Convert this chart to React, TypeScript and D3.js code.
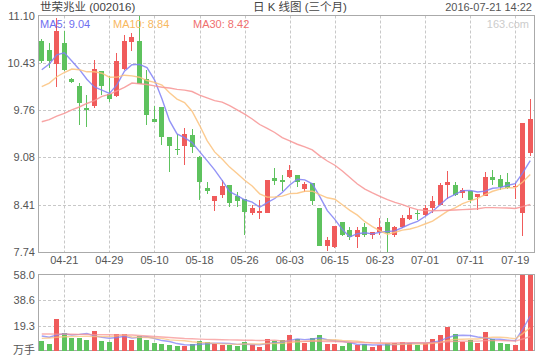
import React from 'react';
import * as d3 from 'd3';

// trading days shown (MM-DD, 2016)
const dates = [
  '04-18', '04-19', '04-20', '04-21', '04-22', '04-25', '04-26', '04-27', '04-28', '04-29',
  '05-03', '05-04', '05-05', '05-06', '05-09', '05-10', '05-11', '05-12', '05-13', '05-16',
  '05-17', '05-18', '05-19', '05-20', '05-23', '05-24', '05-25', '05-26', '05-27', '05-30',
  '05-31', '06-01', '06-02', '06-03', '06-06', '06-07', '06-08', '06-13', '06-14', '06-15',
  '06-16', '06-17', '06-20', '06-21', '06-22', '06-23', '06-24', '06-27', '06-28', '06-29',
  '06-30', '07-01', '07-04', '07-05', '07-06', '07-07', '07-08', '07-11', '07-12', '07-13',
  '07-14', '07-15', '07-18', '07-19', '07-20', '07-21',
];

const opens = [
  10.74, 10.61, 10.41, 10.71, 10.20, 10.10, 9.79, 9.81, 10.31, 9.99,
  9.96, 10.34, 10.72, 10.74, 10.20, 9.63, 9.80, 9.37, 9.21, 9.25,
  9.40, 9.09, 8.65, 8.46, 8.55, 8.69, 8.53, 8.49, 8.29, 8.29,
  8.30, 8.79, 8.76, 8.80, 8.84, 8.64, 8.72, 8.36, 7.82, 7.81,
  8.16, 8.05, 7.95, 8.10, 7.98, 8.03, 8.17, 7.98, 8.09, 8.21,
  8.30, 8.26, 8.36, 8.41, 8.69, 8.69, 8.58, 8.61, 8.52, 8.54,
  8.80, 8.78, 8.73, 8.67, 8.29, 9.15,
];
const highs = [
  10.76, 10.71, 11.06, 10.88, 10.21, 10.14, 9.97, 10.47, 10.31, 10.24,
  10.57, 10.83, 10.85, 11.10, 10.33, 9.82, 9.80, 9.37, 9.42, 9.50,
  9.49, 9.10, 8.73, 8.53, 8.76, 8.69, 8.59, 8.49, 8.41, 8.48,
  8.76, 8.93, 8.84, 8.98, 8.84, 8.74, 8.72, 8.36, 7.96, 8.11,
  8.16, 8.10, 8.09, 8.15, 8.03, 8.22, 8.22, 8.11, 8.27, 8.36,
  8.33, 8.41, 8.54, 8.72, 8.89, 8.74, 8.65, 8.61, 8.57, 8.87,
  8.90, 8.84, 8.86, 8.72, 9.57, 9.92,
];
const lows = [
  10.43, 10.36, 10.09, 10.31, 10.14, 9.54, 9.52, 9.79, 9.97, 9.87,
  9.94, 10.33, 10.59, 10.12, 9.55, 9.58, 9.26, 8.88, 9.12, 8.98,
  9.14, 8.48, 8.57, 8.32, 8.51, 8.38, 8.38, 7.98, 8.27, 8.21,
  8.29, 8.69, 8.60, 8.79, 8.67, 8.59, 8.41, 7.82, 7.76, 7.79,
  7.97, 7.91, 7.79, 7.96, 7.92, 7.98, 7.74, 7.96, 8.08, 8.20,
  8.19, 8.25, 8.29, 8.41, 8.50, 8.53, 8.51, 8.43, 8.34, 8.54,
  8.69, 8.62, 8.63, 8.50, 7.97, 9.10,
];
const closes = [
  10.45, 10.46, 10.88, 10.33, 10.15, 9.85, 9.76, 10.34, 10.10, 9.91,
  10.46, 10.74, 10.79, 10.13, 9.68, 9.59, 9.38, 9.25, 9.19, 9.42,
  9.23, 8.74, 8.61, 8.53, 8.68, 8.43, 8.46, 8.31, 8.36, 8.32,
  8.76, 8.75, 8.73, 8.90, 8.73, 8.71, 8.47, 7.82, 7.91, 8.11,
  7.98, 7.95, 8.05, 7.98, 8.03, 8.09, 8.01, 8.09, 8.22, 8.27,
  8.28, 8.36, 8.46, 8.69, 8.74, 8.55, 8.62, 8.48, 8.57, 8.80,
  8.76, 8.66, 8.65, 8.68, 9.57, 9.63,
];
// volume, 万手
const volumes = [
  7.8, 5.3, 24.3, 13.4, 10.1, 10.1, 8.3, 15.4, 7.8, 6.8,
  12.9, 12.9, 8.3, 11.4, 8.3, 6.3, 5.3, 4.5, 3.8, 4.0,
  5.3, 7.8, 6.8, 5.5, 4.5, 4.5, 3.8, 7.1, 4.5, 3.3,
  9.1, 7.6, 8.3, 12.1, 8.8, 6.3, 10.1, 12.1, 5.3, 5.3,
  3.8, 5.8, 4.5, 5.3, 3.3, 4.5, 5.8, 5.8, 7.1, 6.3,
  4.5, 6.3, 9.1, 12.1, 18.4, 12.9, 7.1, 8.3, 6.3, 14.6,
  8.8, 6.3, 5.3, 4.5, 58.0, 57.9,
];

// first MA points depend on days before the window
const ma5Lead = [10.33, 10.41, 10.54, 10.57];
const ma10Lead = [10.09, 10.14, 10.23, 10.29, 10.34, 10.33, 10.30, 10.30, 10.28];
const ma30Lead = [
  9.59, 9.62, 9.67, 9.71, 9.76, 9.80, 9.85, 9.89, 9.95, 9.98,
  10.03, 10.08, 10.14, 10.13, 10.12, 10.10, 10.08, 10.07, 10.05, 10.04,
  10.02, 9.97, 9.93, 9.89, 9.87, 9.82, 9.76, 9.70, 9.63,
];
const volMa5Lead = [11.4, 10.4, 12.1, 13.1];
const volMa10Lead = [9.6, 9.8, 10.4, 10.8, 11.0, 11.1, 11.1, 11.0, 11.0];
const volMa30Lead = [
  12.9, 12.9, 12.8, 12.8, 12.7, 12.6, 12.5, 12.4, 12.4, 12.3,
  12.2, 12.2, 12.1, 11.8, 11.4, 11.0, 10.6, 10.2, 9.9, 9.5,
  9.3, 9.0, 8.8, 8.7, 8.5, 8.4, 8.3, 8.2, 8.1,
];

const priceTicks = ['7.74', '8.41', '9.08', '9.76', '10.43', '11.10'];
const volTicks = ['19.3', '38.6', '58.0'];
const dateTicks = ['04-21', '04-29', '05-10', '05-18', '05-26', '06-03', '06-15', '06-23', '07-01', '07-11', '07-19'];

const RED = '#f05b5b';
const GREEN = '#5ec25e';
const MA5_COLOR = '#8080f4';
const MA10_COLOR = '#fbc27c';
const MA30_COLOR = '#f79494';
const GRID = '#c8c8c8';
const AXIS = '#aaaaaa';
const FONT = "'Liberation Sans', Arial, 'Noto Sans CJK SC', sans-serif";

const movingAvg = (values: number[], n: number, lead: number[]) =>
  values.map((_, i) => (i < lead.length ? lead[i] : (d3.mean(values.slice(i - n + 1, i + 1)) as number)));

export default function App() {
  const W = 540;
  const H = 360;
  const left = 38;
  const right = 534;
  const priceTop = 15.5;
  const priceBottom = 252;
  const volTop = 274.5;
  const volBottom = 351;

  const x = d3.scaleBand<string>().domain(dates).range([left, right]).paddingInner(0.35).paddingOuter(0.175);
  const cx = (d: string) => (x(d) as number) + x.bandwidth() / 2;
  const pMin = +priceTicks[0];
  const pMax = +priceTicks[priceTicks.length - 1];
  const yP = d3.scaleLinear().domain([pMin, pMax]).range([priceBottom, priceTop]);
  const yV = d3.scaleLinear().domain([0, +volTicks[volTicks.length - 1]]).range([volBottom, volTop]);

  const ma5 = movingAvg(closes, 5, ma5Lead);
  const ma10 = movingAvg(closes, 10, ma10Lead);
  const ma30 = movingAvg(closes, 30, ma30Lead);
  const vma5 = movingAvg(volumes, 5, volMa5Lead);
  const vma10 = movingAvg(volumes, 10, volMa10Lead);
  const vma30 = movingAvg(volumes, 30, volMa30Lead);

  const linePrice = d3.line<number>().x((_, i) => cx(dates[i])).y((d) => yP(d));
  const lineVol = d3.line<number>().x((_, i) => cx(dates[i])).y((d) => yV(d));

  const tickStep = (pMax - pMin) / (priceTicks.length - 1);
  const isUp = (i: number) => closes[i] >= opens[i];
  const last = closes.length - 1;

  const maLines = [
    { data: ma5, vdata: vma5, color: MA5_COLOR },
    { data: ma10, vdata: vma10, color: MA10_COLOR },
    { data: ma30, vdata: vma30, color: MA30_COLOR },
  ];

  return (
    <svg
      width={W}
      height={H}
      style={{ position: 'fixed', left: 0, top: 0, background: '#fff' }}
      fontFamily={FONT}
    >
      <rect x={0} y={0} width={W} height={H} fill="#fff" />
      {/* header */}
      <text x={40} y={6.5} fontSize={11.5} fill="#444" dominantBaseline="central">世荣兆业 (002016)</text>
      <text x={253} y={6.5} fontSize={11.5} fill="#444" dominantBaseline="central">日 K 线图 (三个月)</text>
      <text x={532} y={6.5} fontSize={11} fill="#555" textAnchor="end" dominantBaseline="central">2016-07-21 14:22</text>

      {/* grid */}
      {priceTicks.slice(1, -1).map((t, i) => (
        <line key={t} x1={left} x2={right} y1={Math.round(yP(pMin + (i + 1) * tickStep)) + 0.5} y2={Math.round(yP(pMin + (i + 1) * tickStep)) + 0.5} stroke={GRID} strokeDasharray="3,2" />
      ))}
      {volTicks.slice(0, -1).map((t) => (
        <line key={t} x1={left} x2={right} y1={Math.round(yV(+t)) + 0.5} y2={Math.round(yV(+t)) + 0.5} stroke={GRID} strokeDasharray="3,2" />
      ))}
      {dateTicks.map((d) => (
        <g key={d}>
          <line x1={Math.round(cx(d)) + 0.5} x2={Math.round(cx(d)) + 0.5} y1={priceTop} y2={priceBottom} stroke={GRID} strokeDasharray="3,2" />
          <line x1={Math.round(cx(d)) + 0.5} x2={Math.round(cx(d)) + 0.5} y1={volTop} y2={volBottom} stroke={GRID} strokeDasharray="3,2" />
          <text x={cx(d)} y={260} fontSize={11} fill="#555" textAnchor="middle" dominantBaseline="central">{d}</text>
        </g>
      ))}

      {/* frames */}
      <rect x={left + 0.5} y={Math.round(priceTop) - 0.5} width={right - left} height={priceBottom - Math.round(priceTop) + 1} fill="none" stroke={AXIS} />
      <rect x={left + 0.5} y={Math.round(volTop) - 0.5} width={right - left} height={volBottom - Math.round(volTop)} fill="none" stroke={AXIS} />

      {/* axis labels */}
      {priceTicks.map((t, i) => (
        <text key={t} x={35} y={yP(pMin + i * tickStep)} fontSize={11} fill="#555" textAnchor="end" dominantBaseline="central">{t}</text>
      ))}
      {volTicks.map((t) => (
        <text key={t} x={35} y={yV(+t)} fontSize={11} fill="#555" textAnchor="end" dominantBaseline="central">{t}</text>
      ))}
      <text x={35} y={350} fontSize={11} fill="#555" textAnchor="end" dominantBaseline="central">万手</text>

      {/* candles */}
      <g shapeRendering="crispEdges">
        {dates.map((d, i) => {
          const bx = Math.round(cx(d) - 2.5);
          const top = yP(Math.max(opens[i], closes[i]));
          const bot = yP(Math.min(opens[i], closes[i]));
          const color = isUp(i) ? RED : GREEN;
          return (
            <g key={d}>
              <line x1={bx + 2.5} x2={bx + 2.5} y1={yP(highs[i])} y2={yP(lows[i])} stroke={color} />
              <rect x={bx} y={Math.round(top)} width={5} height={Math.max(1, Math.round(bot) - Math.round(top))} fill={color} />
            </g>
          );
        })}
        {dates.map((d, i) => (
          <rect key={d} x={Math.round(cx(d) - 2.5)} y={Math.round(yV(volumes[i]))} width={5} height={volBottom - Math.round(yV(volumes[i]))} fill={isUp(i) ? RED : GREEN} />
        ))}
      </g>

      {/* moving averages */}
      {maLines.map((m) => (
        <g key={m.color}>
          <path d={linePrice(m.data) as string} fill="none" stroke={m.color} strokeWidth={1.4} strokeOpacity={0.85} />
          <path d={lineVol(m.vdata) as string} fill="none" stroke={m.color} strokeWidth={1.4} strokeOpacity={0.75} />
        </g>
      ))}

      {/* legend */}
      <text x={40} y={23.5} fontSize={11} fill="#6f6ff0" dominantBaseline="central">MA5: {(d3.mean(closes.slice(last - 4)) as number).toFixed(2)}</text>
      <text x={113} y={23.5} fontSize={11} fill="#f8b860" dominantBaseline="central">MA10: {(d3.mean(closes.slice(last - 9)) as number).toFixed(2)}</text>
      <text x={193} y={23.5} fontSize={11} fill="#f07070" dominantBaseline="central">MA30: {(d3.mean(closes.slice(last - 29)) as number).toFixed(2)}</text>
      <text x={529} y={24} fontSize={11} fill="#cccccc" textAnchor="end" dominantBaseline="central">163.com</text>
    </svg>
  );
}
